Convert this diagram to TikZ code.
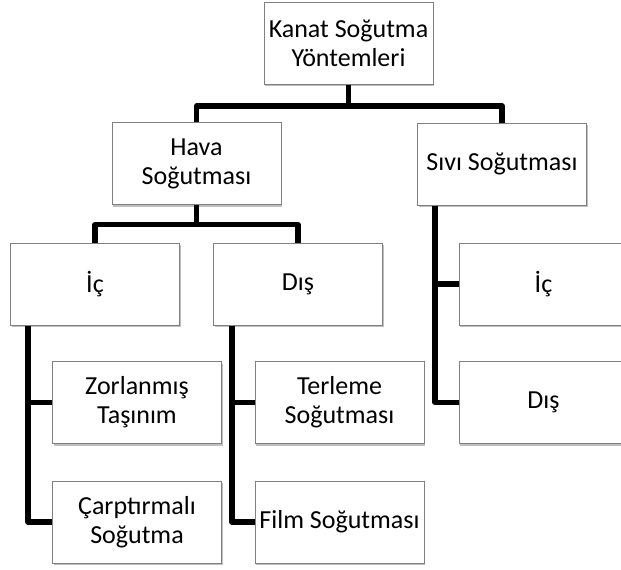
\documentclass[tikz,border=0pt]{standalone}
\usepackage{fontspec}
\setmainfont{Carlito}
\usetikzlibrary{shadows}
\tikzstyle{unit} = [rectangle, draw=black!50, line width=.5pt, fill=white,
	minimum width=84.5pt, minimum height=41pt, inner sep=1pt, align=center,
	font=\fontsize{13}{14.5}\selectfont,
	drop shadow={shadow xshift=.6pt, shadow yshift=-1.2pt, fill=black, opacity=.25}]
\tikzstyle{branch} = [line width=2.7pt, line join=round, black]

\begin{document}
\begin{tikzpicture}[x=.5pt, y=-.5pt]
			\useasboundingbox (0,0) rectangle (621,569);
			% the tree, row by row
			\node [unit] (root) at (348.5,43) {Kanat Soğutma\\Yöntemleri};
			\node [unit] (hava) at (196.5,163.5) {Hava\\Soğutması};
			\node [unit] (sivi) at (502,164) {Sıvı Soğutması};
			\node [unit] (hic) at (95,284) {İç};
			\node [unit] (hdis) at (298,284) {Dış};
			\node [unit] (sic) at (543.5,284) {İç};
			\node [unit] (sdis) at (543.5,402.5) {Dış};
			\node [unit] (zorl) at (137,402.5) {Zorlanmış\\Taşınım};
			\node [unit] (carp) at (137,522) {Çarptırmalı\\Soğutma};
			\node [unit] (terl) at (339.5,402.5) {Terleme\\Soğutması};
			\node [unit] (film) at (339.5,522) {Film Soğutması};

			% connectors
			\coordinate (j1) at (348.5,106);
			\coordinate (j2) at (196.5,224.5);
			\draw [branch] (root.south) -- (j1);
			\draw [branch] (hava.north) |- (j1) -| (sivi.north);
			\draw [branch] (hava.south) -- (j2);
			\draw [branch] (hic.north) |- (j2) -| (hdis.north);
			\draw [branch] ([xshift=9pt]hic.south west) |- (zorl.west);
			\draw [branch] ([xshift=9pt]hic.south west) |- (carp.west);
			\draw [branch] ([xshift=9.5pt]hdis.south west) |- (terl.west);
			\draw [branch] ([xshift=9.5pt]hdis.south west) |- (film.west);
			\draw [branch] ([xshift=9pt]sivi.south west) |- (sic.west);
			\draw [branch] ([xshift=9pt]sivi.south west) |- (sdis.west);
		\end{tikzpicture}
\end{document}
